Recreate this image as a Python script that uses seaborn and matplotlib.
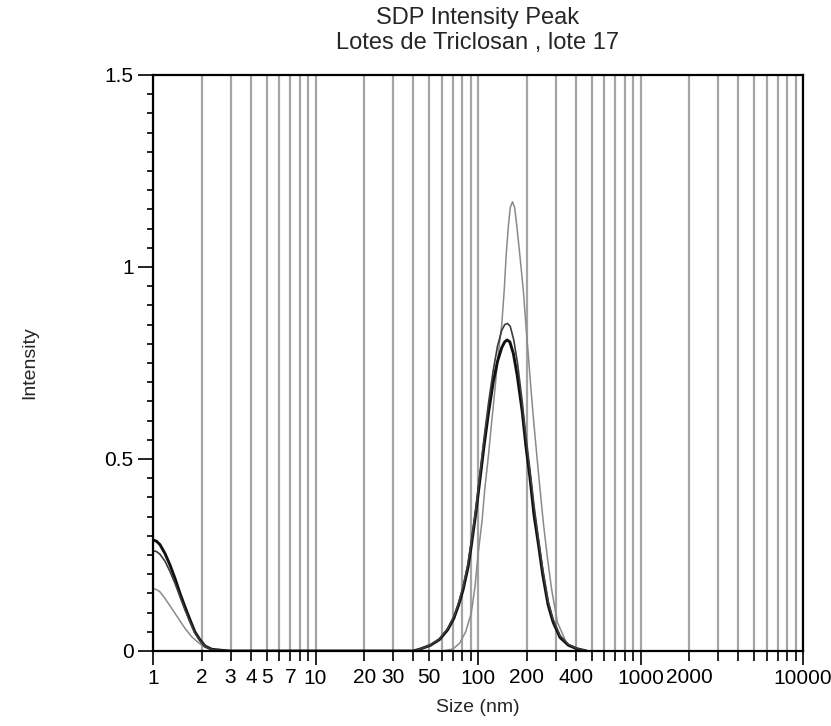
import numpy as np
import pandas as pd
import matplotlib
matplotlib.use("Agg")
import matplotlib.pyplot as plt
from matplotlib.ticker import FixedLocator, FuncFormatter, MultipleLocator
import seaborn as sns

# ---------------- data ----------------
title_line1 = "SDP Intensity Peak"
title_line2 = "Lotes de Triclosan , lote 17"
x_label = "Size (nm)"
y_label = "Intensity"

# Record A (thick black)
size_a = [1.0, 1.05, 1.104, 1.185, 1.272, 1.366, 1.466, 1.573, 1.69, 1.81, 1.946, 2.09, 2.3, 2.77, 3.0,
          40, 44, 51, 58, 65, 71, 76, 81, 87, 91, 97, 103, 109, 116, 124, 132, 140, 146, 151, 157, 165,
          174, 187, 197, 209, 221, 235, 250, 270, 290, 320, 360, 405, 466]
int_a = [0.289, 0.286, 0.277, 0.254, 0.224, 0.189, 0.150, 0.115, 0.081, 0.050, 0.029, 0.013, 0.0045, 0.001, 0.0,
         0.0, 0.005, 0.015, 0.03, 0.055, 0.085, 0.12, 0.16, 0.22, 0.275, 0.36, 0.45, 0.535, 0.62, 0.70, 0.755,
         0.79, 0.805, 0.81, 0.805, 0.775, 0.72, 0.625, 0.535, 0.45, 0.355, 0.28, 0.2, 0.12, 0.075, 0.035,
         0.015, 0.006, 0.0]

# Record B (dark thin)
size_b = [1.0, 1.05, 1.104, 1.185, 1.272, 1.366, 1.466, 1.573, 1.69, 1.81, 1.946, 2.09, 2.3, 2.77, 3.0,
          40, 44, 51, 58, 65, 71, 76, 81, 87, 91, 97, 103, 109, 116, 124, 132, 140, 146, 152, 158, 166,
          175, 187, 197, 209, 221, 235, 250, 270, 290, 320, 360, 405, 466]
int_b = [0.261, 0.259, 0.252, 0.234, 0.207, 0.176, 0.141, 0.107, 0.075, 0.047, 0.027, 0.012, 0.004, 0.001, 0.0,
         0.0, 0.005, 0.016, 0.032, 0.058, 0.09, 0.125, 0.168, 0.23, 0.285, 0.37, 0.465, 0.555, 0.645, 0.73,
         0.795, 0.835, 0.85, 0.853, 0.845, 0.81, 0.75, 0.65, 0.56, 0.47, 0.38, 0.295, 0.215, 0.13, 0.082,
         0.04, 0.017, 0.007, 0.0]

# Record C (light grey, tall peak)
size_c = [1.0, 1.05, 1.104, 1.185, 1.303, 1.432, 1.573, 1.73, 1.90, 2.09, 2.3, 2.52, 3.0,
          60, 70, 77, 84, 91, 96, 100, 106, 110, 116, 121, 127, 133, 140, 145, 149, 154, 158, 163, 168,
          173, 181, 190, 197, 204, 212, 221, 230, 241, 253, 267, 284, 308, 351, 400, 450]
int_c = [0.163, 0.160, 0.154, 0.137, 0.111, 0.085, 0.059, 0.037, 0.022, 0.0095, 0.004, 0.0017, 0.0,
         0.0, 0.005, 0.02, 0.05, 0.10, 0.17, 0.25, 0.34, 0.42, 0.51, 0.59, 0.68, 0.77, 0.85, 0.94, 1.03,
         1.11, 1.155, 1.17, 1.155, 1.11, 1.03, 0.94, 0.85, 0.77, 0.68, 0.59, 0.51, 0.42, 0.33, 0.245,
         0.16, 0.075, 0.02, 0.005, 0.0]

x_major = [1, 10, 100, 1000, 10000]
x_labelled = [1, 2, 3, 4, 5, 7, 10, 20, 30, 50, 100, 200, 400, 1000, 2000, 10000]
y_major = [0, 0.5, 1, 1.5]
y_major_labels = ["0", "0.5", "1", "1.5"]

# ---------------- figure ----------------
sns.set_style("white")
plt.rcParams["font.family"] = ["Liberation Sans", "DejaVu Sans"]

W, H = 831, 726
fig = plt.figure(figsize=(W / 100, H / 100), dpi=100)
ax_l, ax_r, ax_t, ax_b = 153, 803, 75, 651
ax = fig.add_axes([ax_l / W, (H - ax_b) / H, (ax_r - ax_l) / W, (ax_b - ax_t) / H])

series = [
    ("A", size_a, int_a, "#111111", 2.1, 4),
    ("B", size_b, int_b, "#3c3c3c", 1.2, 5),
    ("C", size_c, int_c, "#8a8a8a", 1.1, 3),
]
for name, xs, ys, col, lw, z in series:
    df = pd.DataFrame({"Size": xs, "Intensity": ys})
    sns.lineplot(data=df, x="Size", y="Intensity", ax=ax, color=col, linewidth=lw,
                 estimator=None, sort=False, zorder=z)

ax.set_xscale("log")
ax.set_xlim(1, 10000)
ax.set_ylim(0, 1.5)

minor_pos = [k * 10 ** d for d in range(4) for k in range(2, 10)]
ax.xaxis.set_major_locator(FixedLocator(x_major))
ax.xaxis.set_minor_locator(FixedLocator(minor_pos))
fmt = FuncFormatter(lambda v, p: (str(int(round(v))) if any(abs(v - t) < 1e-6 * t for t in x_labelled) else ""))
ax.xaxis.set_major_formatter(fmt)
ax.xaxis.set_minor_formatter(fmt)

ax.yaxis.set_major_locator(FixedLocator(y_major))
ax.yaxis.set_major_formatter(FuncFormatter(lambda v, p: y_major_labels[int(round(v / 0.5))]))
ax.yaxis.set_minor_locator(MultipleLocator(0.05))

ax.grid(True, which="both", axis="x", color="#a4a4a4", linewidth=1.6, zorder=0)
ax.grid(False, axis="y")
ax.set_axisbelow(True)

fs = 15
ax.tick_params(axis="both", which="both", bottom=True, left=True, top=False, right=False)
ax.tick_params(axis="x", which="major", direction="out", length=10, width=1.2, colors="black",
               labelsize=fs, pad=3, labelcolor="black")
ax.tick_params(axis="x", which="minor", direction="out", length=7, width=1.2, colors="black",
               labelsize=fs, pad=5.5, labelcolor="black")
ax.tick_params(axis="y", which="major", direction="out", length=11, width=1.2, colors="black",
               labelsize=fs, pad=3)
ax.tick_params(axis="y", which="minor", direction="out", length=4.5, width=1.2, colors="black")

for sp in ax.spines.values():
    sp.set_visible(True)
    sp.set_color("black")
    sp.set_linewidth(1.6)
    sp.set_zorder(6)

ax.set_xlabel("")
ax.set_ylabel("")
fig.text((ax_l + ax_r) / 2 / W, 1 - 18 / H, title_line1, ha="center", va="center", fontsize=17)
fig.text((ax_l + ax_r) / 2 / W, 1 - 43 / H, title_line2, ha="center", va="center", fontsize=17)
fig.text((ax_l + ax_r) / 2 / W, 1 - 707 / H, x_label, ha="center", va="center", fontsize=fs - 1)
fig.text(30 / W, 1 - 363 / H, y_label, ha="center", va="center", rotation=90, fontsize=fs - 1)

fig.savefig("out.png", dpi=100, facecolor="white")
